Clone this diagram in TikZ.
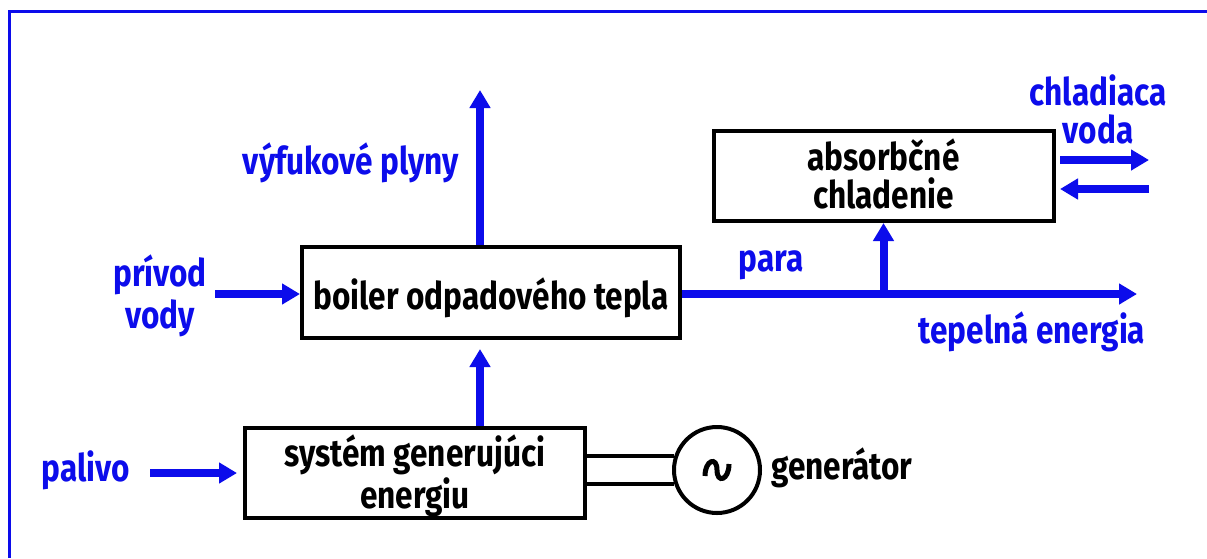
\documentclass[tikz,border=0pt]{standalone}
\usepackage{fontspec}
\setmainfont[FakeStretch=0.83]{Fira Sans}
\usetikzlibrary{arrows.meta}
\definecolor{fblue}{RGB}{12,12,235}
\tikzset{
  flow/.style={draw=fblue, line width=8pt, -{Triangle[length=18pt,width=20pt]}},
  box/.style={draw=black, line width=4pt, fill=white, rectangle, inner sep=0pt},
  blab/.style={text=fblue, align=center, inner sep=0pt, font=\bfseries\fontsize{38}{42}\selectfont},
  klab/.style={text=black, align=center, inner sep=0pt, font=\bfseries\fontsize{38}{42}\selectfont},
  shaft/.style={draw=black, line width=4pt},
}
\begin{document}
\begin{tikzpicture}[x=1pt,y=-1pt]
\useasboundingbox (0,0) rectangle (1207,558);
\fill[white] (0,0) rectangle (1207,558);
% frame
\draw[fblue, line width=3pt] (9.5,558) -- (9.5,11) -- (1207,11);

% boxes
\node[box, minimum width=378pt, minimum height=91pt] (boiler) at (491,292.5) {};
\node[klab] at (491,298) {boiler odpadového tepla};
\node[box, minimum width=340pt, minimum height=90pt] (absorb) at (883.5,176) {};
\node[klab] at (883.5,174) {absorbčné\\[-4pt]chladenie};
\node[box, minimum width=340pt, minimum height=90pt] (gen) at (415,473) {};
\node[klab] at (415,476) {systém generujúci\\[0pt]energiu};
\node[draw=black, line width=4pt, circle, minimum size=86pt, inner sep=0pt, fill=white] (circ) at (717,470) {};
\draw[black, line width=5pt] ([shift={(-12pt,-6pt)}]circ.center) .. controls +(0,16pt) and +(0,14pt) .. (circ.center) .. controls +(0,-14pt) and +(0,-16pt) .. ([shift={(12pt,6pt)}]circ.center);

% coordinates
\coordinate (vyfTop) at (480,90);
\coordinate (privStart) at (215,294);
\coordinate (paraEnd) at (1137,294);
\coordinate (palStart) at (150,473);
\coordinate (cwA) at (1060,160);
\coordinate (cwB) at (1149,160);
\coordinate (cwC) at (1149,189);
\coordinate (cwD) at (1060,189);

% connectors
\draw[flow] (vyfTop |- boiler.north) -- (vyfTop);
\draw[flow, shorten >=9pt] (vyfTop |- gen.north) -- (vyfTop |- boiler.south);
\draw[flow] (privStart) -- (privStart -| boiler.west);
\draw[flow] (paraEnd -| boiler.east) -- (paraEnd);
\draw[flow] (absorb.south |- paraEnd) -- (absorb.south);
\draw[flow, shorten >=6pt] (palStart) -- (gen.west);
\draw[flow] (cwA) -- (cwB);
\draw[flow] (cwC) -- (cwD);
\draw[shaft] (gen.east |- circ.162) -- (circ.162);
\draw[shaft] (gen.east |- circ.198) -- (circ.198);

% labels
\node[blab] (lvyf) at (351,163) {výfukové plyny};
\node[blab] (lpriv) at (160,296) {prívod\\vody};
\node[blab] (lpara) at (771,265) {para};
\node[blab] (ltep) at (1032,332) {tepelná energia};
\node[blab] (lchl) at (1098,109) {chladiaca\\[-4pt]voda};
\node[blab] (lpal) at (86,470) {palivo};
\node[klab] (lgen) at (842,468) {generátor};
\end{tikzpicture}
\end{document}
